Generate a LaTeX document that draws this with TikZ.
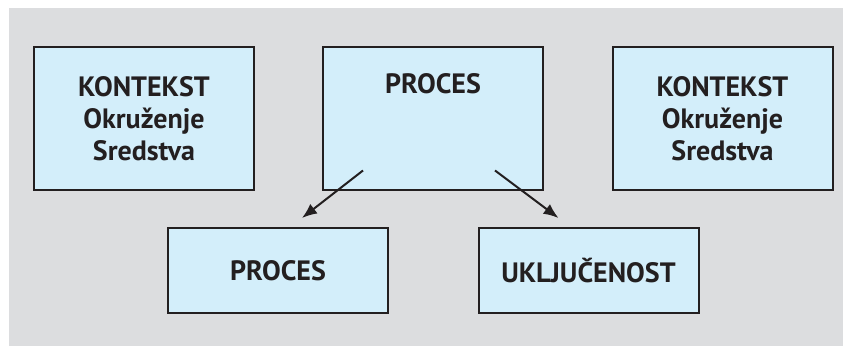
\documentclass[tikz,border=0pt]{standalone}
\usepackage{fontspec}
\setmainfont{PT Sans}
\usetikzlibrary{arrows.meta,calc}
\definecolor{bggray}{HTML}{DCDDDF}
\definecolor{boxblue}{HTML}{D3EEFA}
\definecolor{ink}{HTML}{231F20}
\tikzset{>={Latex[length=7.5pt,width=6pt]}}
\tikzstyle{boxtext}=[font=\fontsize{14}{16}\selectfont\bfseries,text=ink]
\tikzstyle{bigbox}=[rectangle,draw=ink,fill=boxblue,line width=1pt,minimum width=110pt,minimum height=71.5pt,inner sep=0pt,align=center,boxtext]
\tikzstyle{smallbox}=[bigbox,minimum height=42.5pt]
\tikzstyle{arr}=[->,draw=ink,line width=1pt]

\begin{document}
\begin{tikzpicture}[x=0.5pt,y=-0.5pt]
	\useasboundingbox (0,0) rectangle (843,346);
	\fill[bggray] (9,8) rectangle (843,346);

	% upper row
	\node[bigbox] (ctxl) at (144,119) {KONTEKST\\Okruženje\\Sredstva};
	\node[bigbox, label={[anchor=north,boxtext,inner sep=0pt,yshift=-13.5pt]north:PROCES}] (proc) at (433,119) {};
	\node[bigbox] (ctxr) at (722.5,119) {KONTEKST\\Okruženje\\Sredstva};

	% lower row
	\node[smallbox] (procb) at (278,270.5) {PROCES};
	\node[smallbox] (uklj) at (588.5,270.5) {UKLJUČENOST};

	\coordinate (s1) at ($(proc.south)+(-70,-21)$);
	\coordinate (s2) at ($(proc.south)+(62,-21)$);
	\coordinate (t1) at ($(procb.north)+(24,-9)$);
	\coordinate (t2) at ($(uklj.north)+(-30,-9)$);

	\draw[arr] (s1) -- (t1);
	\draw[arr] (s2) -- (t2);
\end{tikzpicture}
\end{document}
